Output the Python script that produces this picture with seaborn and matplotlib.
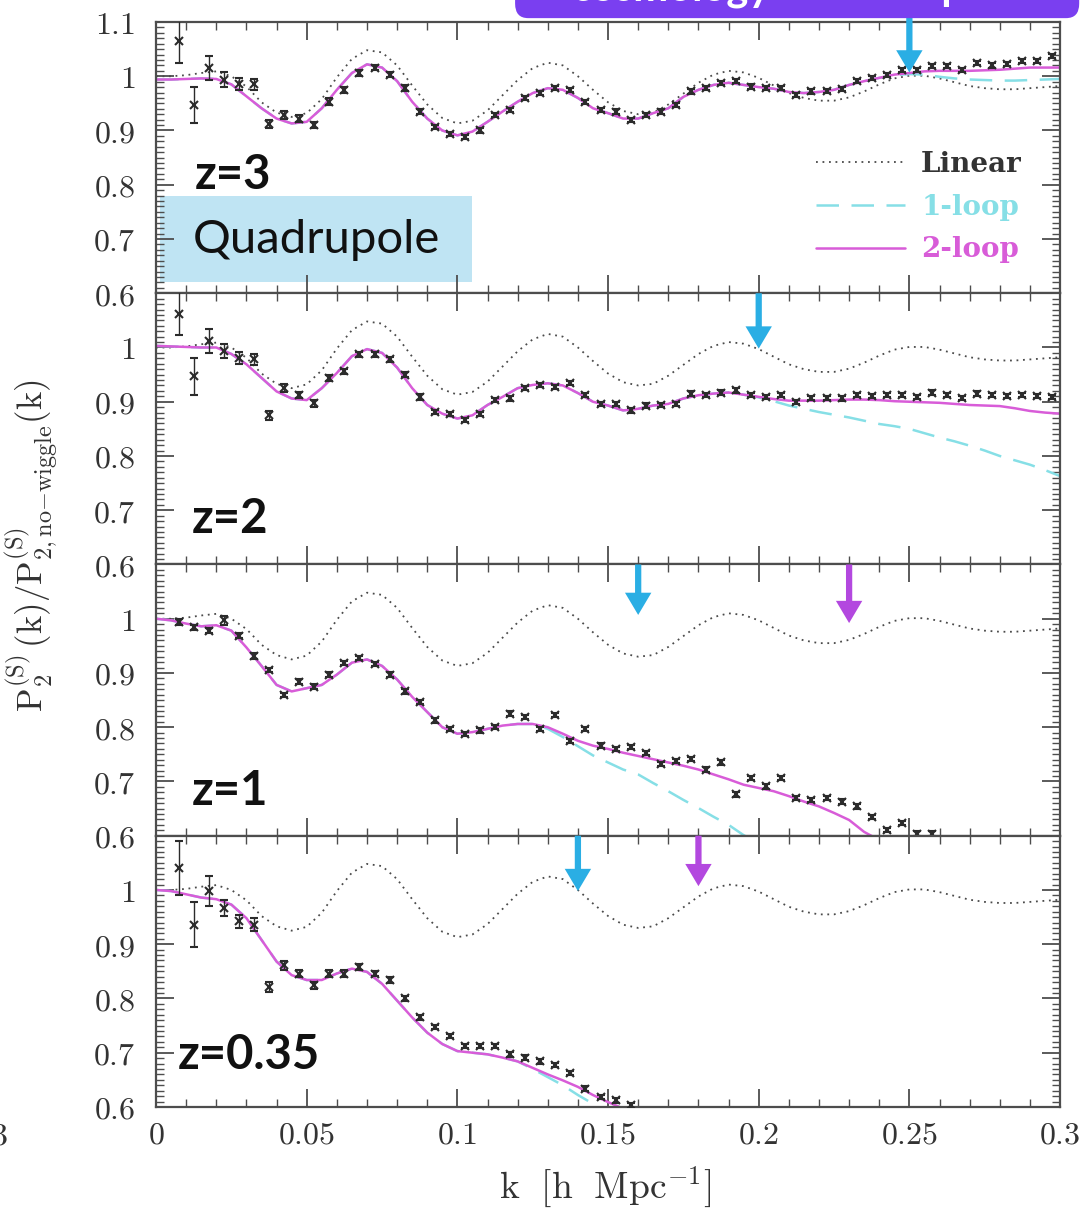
import matplotlib
matplotlib.use("Agg")
import matplotlib.pyplot as plt
import seaborn as sns
import numpy as np
from matplotlib.ticker import MultipleLocator, FuncFormatter
from matplotlib.patches import Rectangle, FancyBboxPatch
from matplotlib.lines import Line2D

sns.set_theme(style="ticks")
plt.rcParams['mathtext.fontset'] = 'cm'
plt.rcParams['font.family'] = ['DejaVu Serif']

# k grid for the theory curves (h/Mpc)
K_LINE = [0.000, 0.005, 0.010, 0.015, 0.020, 0.025, 0.030, 0.035, 0.040, 0.045,
          0.050, 0.055, 0.060, 0.065, 0.070, 0.075, 0.080, 0.085, 0.090, 0.095,
          0.100, 0.105, 0.110, 0.115, 0.120, 0.125, 0.130, 0.135, 0.140, 0.145,
          0.150, 0.155, 0.160, 0.165, 0.170, 0.175, 0.180, 0.185, 0.190, 0.195,
          0.200, 0.205, 0.210, 0.215, 0.220, 0.225, 0.230, 0.235, 0.240, 0.245,
          0.250, 0.255, 0.260, 0.265, 0.270, 0.275, 0.280, 0.285, 0.290, 0.295, 0.300]

# k bins of the N-body points
K_DATA = [0.0075, 0.0125, 0.0175, 0.0225, 0.0275, 0.0325, 0.0375, 0.0425, 0.0475, 0.0525,
          0.0575, 0.0625, 0.0675, 0.0725, 0.0775, 0.0825, 0.0875, 0.0925, 0.0975, 0.1025,
          0.1075, 0.1125, 0.1175, 0.1225, 0.1275, 0.1325, 0.1375, 0.1425, 0.1475, 0.1525,
          0.1575, 0.1625, 0.1675, 0.1725, 0.1775, 0.1825, 0.1875, 0.1925, 0.1975, 0.2025,
          0.2075, 0.2125, 0.2175, 0.2225, 0.2275, 0.2325, 0.2375, 0.2425, 0.2475, 0.2525,
          0.2575, 0.2625, 0.2675, 0.2725, 0.2775, 0.2825, 0.2875, 0.2925, 0.2975]

# error bars (same bins); z=1 points have small errors at low k
ERR_WIDE = [0.040, 0.034, 0.022, 0.013, 0.011, 0.010, 0.008, 0.007, 0.006, 0.006,
            0.006, 0.005, 0.005, 0.005, 0.005, 0.005, 0.005, 0.004, 0.004, 0.004,
            0.004, 0.004, 0.004, 0.004, 0.004, 0.004, 0.004, 0.004, 0.004, 0.004,
            0.004, 0.004, 0.004, 0.004, 0.004, 0.004, 0.004, 0.004, 0.004, 0.004,
            0.004, 0.004, 0.004, 0.004, 0.004, 0.004, 0.004, 0.004, 0.004, 0.004,
            0.004, 0.004, 0.004, 0.004, 0.004, 0.004, 0.004, 0.004, 0.004]
ERR_Z035 = [0.050, 0.042, 0.027, 0.015, 0.012, 0.012, 0.009, 0.008, 0.007, 0.006,
            0.006, 0.006, 0.005, 0.005, 0.005, 0.005, 0.005, 0.004, 0.004, 0.004,
            0.004, 0.004, 0.004, 0.004, 0.004, 0.004, 0.004, 0.004, 0.004, 0.004, 0.004]
ERR_Z1 = [0.005, 0.005, 0.005, 0.008, 0.005, 0.005, 0.004, 0.004, 0.004, 0.004,
          0.004, 0.004, 0.004, 0.004, 0.004, 0.004, 0.004, 0.004, 0.004, 0.004,
          0.004, 0.004, 0.004, 0.004, 0.004, 0.004, 0.004, 0.004, 0.004, 0.004,
          0.004, 0.004, 0.004, 0.004, 0.004, 0.004, 0.004, 0.004, 0.004, 0.004,
          0.004, 0.004, 0.004, 0.004, 0.004, 0.004, 0.004, 0.004, 0.004, 0.004, 0.004]

LINEAR = [1.000, 1.000, 1.002, 1.006, 1.009, 1.000, 0.981, 0.952, 0.933, 0.925,
          0.932, 0.958, 0.998, 1.032, 1.048, 1.044, 1.020, 0.983, 0.948, 0.923,
          0.913, 0.918, 0.937, 0.965, 0.993, 1.015, 1.025, 1.020, 1.000, 0.975,
          0.952, 0.936, 0.930, 0.933, 0.948, 0.968, 0.988, 1.003, 1.010, 1.007,
          0.997, 0.983, 0.969, 0.960, 0.955, 0.955, 0.961, 0.972, 0.985, 0.996,
          1.001, 1.001, 0.996, 0.989, 0.982, 0.978, 0.976, 0.976, 0.978, 0.980, 0.982]

# z = 3
Z3_TWO = [0.994, 0.994, 0.995, 0.996, 0.995, 0.985, 0.963, 0.941, 0.922, 0.913,
          0.916, 0.941, 0.975, 1.006, 1.022, 1.016, 0.991, 0.953, 0.922, 0.900,
          0.891, 0.898, 0.916, 0.935, 0.953, 0.969, 0.978, 0.975, 0.960, 0.941,
          0.932, 0.922, 0.922, 0.932, 0.941, 0.962, 0.975, 0.984, 0.988, 0.984,
          0.980, 0.977, 0.971, 0.969, 0.971, 0.975, 0.984, 0.991, 0.997, 1.003,
          1.006, 1.009, 1.010, 1.010, 1.010, 1.011, 1.012, 1.014, 1.016, 1.016, 1.016]
Z3_ONE = [0.994, 0.994, 0.995, 0.996, 0.995, 0.985, 0.963, 0.941, 0.922, 0.913,
          0.916, 0.941, 0.975, 1.006, 1.022, 1.016, 0.991, 0.953, 0.922, 0.900,
          0.891, 0.898, 0.916, 0.935, 0.953, 0.969, 0.978, 0.975, 0.960, 0.941,
          0.932, 0.922, 0.922, 0.932, 0.941, 0.962, 0.975, 0.984, 0.988, 0.984,
          0.980, 0.977, 0.971, 0.969, 0.971, 0.975, 0.984, 0.991, 0.997, 1.002,
          1.004, 1.003, 0.999, 0.996, 0.994, 0.993, 0.992, 0.992, 0.993, 0.994, 0.995]
Z3_DATA = [1.065, 0.947, 1.015, 0.994, 0.985, 0.985, 0.912, 0.929, 0.922, 0.910,
           0.953, 0.975, 1.006, 1.016, 1.003, 0.978, 0.935, 0.907, 0.894, 0.888,
           0.900, 0.929, 0.938, 0.960, 0.969, 0.978, 0.975, 0.953, 0.938, 0.935,
           0.919, 0.929, 0.935, 0.947, 0.972, 0.978, 0.988, 0.991, 0.981, 0.978,
           0.978, 0.966, 0.972, 0.973, 0.977, 0.991, 0.997, 1.002, 1.012, 1.011,
           1.019, 1.019, 1.012, 1.025, 1.020, 1.022, 1.028, 1.028, 1.037]

# z = 2
Z2_TWO = [1.003, 1.002, 1.001, 1.000, 1.000, 0.988, 0.969, 0.944, 0.919, 0.906,
          0.903, 0.925, 0.953, 0.984, 0.997, 0.990, 0.963, 0.925, 0.894, 0.878,
          0.869, 0.875, 0.894, 0.909, 0.925, 0.931, 0.934, 0.930, 0.916, 0.900,
          0.893, 0.884, 0.887, 0.893, 0.896, 0.906, 0.912, 0.915, 0.917, 0.913,
          0.909, 0.905, 0.902, 0.902, 0.902, 0.903, 0.904, 0.904, 0.903, 0.901,
          0.900, 0.899, 0.898, 0.896, 0.894, 0.893, 0.892, 0.888, 0.883, 0.880, 0.878]
Z2_ONE = [1.003, 1.002, 1.001, 1.000, 1.000, 0.988, 0.969, 0.944, 0.919, 0.906,
          0.903, 0.925, 0.953, 0.984, 0.997, 0.990, 0.963, 0.925, 0.894, 0.878,
          0.869, 0.875, 0.894, 0.909, 0.925, 0.931, 0.934, 0.930, 0.916, 0.900,
          0.893, 0.884, 0.887, 0.893, 0.896, 0.906, 0.912, 0.915, 0.917, 0.913,
          0.908, 0.901, 0.893, 0.887, 0.881, 0.876, 0.871, 0.865, 0.859, 0.855,
          0.850, 0.842, 0.834, 0.827, 0.819, 0.810, 0.800, 0.792, 0.784, 0.774, 0.763]
Z2_DATA = [1.0625, 0.947, 1.0125, 0.994, 0.981, 0.978, 0.875, 0.925, 0.9125, 0.897,
           0.944, 0.956, 0.9875, 0.9875, 0.978, 0.950, 0.909, 0.881, 0.878, 0.866,
           0.878, 0.903, 0.906, 0.925, 0.931, 0.927, 0.934, 0.912, 0.896, 0.896,
           0.884, 0.893, 0.894, 0.896, 0.915, 0.913, 0.917, 0.921, 0.913, 0.909,
           0.912, 0.899, 0.907, 0.907, 0.906, 0.912, 0.911, 0.912, 0.913, 0.909,
           0.917, 0.913, 0.907, 0.915, 0.912, 0.911, 0.912, 0.911, 0.909]

# z = 1
Z1_TWO = [1.000, 0.997, 0.991, 0.986, 0.988, 0.978, 0.947, 0.913, 0.878, 0.866,
          0.872, 0.878, 0.897, 0.919, 0.925, 0.913, 0.888, 0.856, 0.828, 0.800,
          0.788, 0.791, 0.797, 0.803, 0.806, 0.806, 0.800, 0.788, 0.775, 0.766,
          0.760, 0.753, 0.747, 0.741, 0.735, 0.729, 0.722, 0.713, 0.704, 0.694,
          0.688, 0.682, 0.673, 0.663, 0.654, 0.642, 0.629, 0.607, 0.592]
Z1_ONE = [1.000, 0.997, 0.991, 0.986, 0.988, 0.978, 0.947, 0.913, 0.878, 0.866,
          0.872, 0.878, 0.897, 0.919, 0.925, 0.913, 0.888, 0.856, 0.828, 0.800,
          0.788, 0.791, 0.797, 0.803, 0.806, 0.806, 0.797, 0.782, 0.765, 0.748,
          0.735, 0.722, 0.713, 0.697, 0.682, 0.666, 0.651, 0.635, 0.620, 0.601, 0.586]
Z1_DATA = [0.994, 0.984, 0.978, 0.997, 0.969, 0.931, 0.906, 0.859, 0.884, 0.875,
           0.897, 0.919, 0.928, 0.916, 0.897, 0.866, 0.847, 0.8125, 0.797, 0.7875,
           0.794, 0.800, 0.825, 0.819, 0.797, 0.822, 0.775, 0.797, 0.766, 0.760,
           0.763, 0.753, 0.732, 0.738, 0.741, 0.722, 0.735, 0.676, 0.707, 0.691,
           0.707, 0.670, 0.666, 0.670, 0.663, 0.654, 0.635, 0.611, 0.623, 0.604, 0.604]

# z = 0.35
Z035_TWO = [1.000, 0.998, 0.992, 0.986, 0.983, 0.973, 0.948, 0.908, 0.868, 0.843,
            0.834, 0.834, 0.846, 0.855, 0.849, 0.827, 0.796, 0.765, 0.737, 0.716,
            0.703, 0.700, 0.697, 0.691, 0.684, 0.672, 0.660, 0.649, 0.637, 0.622,
            0.609, 0.597]
Z035_ONE = [1.000, 0.998, 0.992, 0.986, 0.983, 0.973, 0.948, 0.908, 0.868, 0.843,
            0.834, 0.834, 0.846, 0.855, 0.849, 0.827, 0.796, 0.765, 0.737, 0.716,
            0.703, 0.700, 0.697, 0.691, 0.684, 0.670, 0.655, 0.640, 0.622, 0.606, 0.590]
Z035_DATA = [1.040, 0.936, 0.998, 0.967, 0.942, 0.936, 0.821, 0.861, 0.846, 0.824,
             0.846, 0.846, 0.858, 0.846, 0.834, 0.800, 0.765, 0.747, 0.731, 0.712,
             0.712, 0.712, 0.697, 0.691, 0.684, 0.677, 0.662, 0.634, 0.618, 0.612, 0.603]

PANEL_LABELS = ["z=3", "z=2", "z=1", "z=0.35"]

# arrows: (panel, k, tip value, colour key)
ARROWS = [(0, 0.25, 1.007, "one"), (1, 0.20, 0.998, "one"),
          (2, 0.16, 1.007, "one"), (2, 0.23, 0.992, "two"),
          (3, 0.14, 0.998, "one"), (3, 0.18, 1.007, "two")]

C_LIN = "#4a4a4a"
C_ONE = "#86dfe6"
C_TWO = "#d85cd8"
ARROW_COL = {"one": "#2aaee4", "two": "#b348df"}
SPINE = "#4d4d4d"

panels = [(Z3_TWO, Z3_ONE, Z3_DATA, ERR_WIDE), (Z2_TWO, Z2_ONE, Z2_DATA, ERR_WIDE),
          (Z1_TWO, Z1_ONE, Z1_DATA, ERR_Z1), (Z035_TWO, Z035_ONE, Z035_DATA, ERR_Z035)]
label_pos = [(0.043, 0.435), (0.040, 0.166), (0.040, 0.166), (0.024, 0.19)]

fig, axes = plt.subplots(4, 1, sharex=True, figsize=(10.89, 12.09), dpi=100)
fig.patch.set_facecolor("white")
fig.subplots_adjust(left=0.1433, right=0.9734, top=0.9818, bottom=0.0844, hspace=0)

for i, (ax, (two, one, dat, err)) in enumerate(zip(axes, panels)):
    sns.lineplot(x=K_LINE, y=LINEAR, ax=ax, color=C_LIN, lw=1.3,
                 linestyle=(0, (1, 2.6)), label="Linear")
    sns.lineplot(x=K_LINE[:len(one)], y=one, ax=ax, color=C_ONE, lw=1.8,
                 linestyle=(0, (9, 5)), label="1-loop")
    sns.lineplot(x=K_LINE[:len(two)], y=two, ax=ax, color=C_TWO, lw=1.8,
                 label="2-loop")
    ax.errorbar(K_DATA[:len(dat)], dat, yerr=err[:len(dat)], fmt="x",
                color="#2b2b2b", ms=6, mew=1.5, elinewidth=1.0, capsize=3,
                capthick=1.0, zorder=5)

    ax.set_xlim(0, 0.3)
    ax.set_ylim(0.6, 1.1)
    ax.xaxis.set_major_locator(MultipleLocator(0.05))
    ax.xaxis.set_minor_locator(MultipleLocator(0.01))
    ax.yaxis.set_major_locator(MultipleLocator(0.1))
    ax.yaxis.set_minor_locator(MultipleLocator(0.01))
    top_lab = (i == 0)
    ax.yaxis.set_major_formatter(FuncFormatter(
        lambda v, p, t=top_lab: "" if (v > 1.05 and not t) else f"${v:g}$"))
    ax.xaxis.set_major_formatter(FuncFormatter(lambda v, p: f"${v:g}$"))
    ax.tick_params(which="both", direction="in", top=True, right=True,
                   colors=SPINE, labelcolor="#333333", labelsize=23)
    ax.tick_params(which="major", length=13, width=1.3)
    ax.tick_params(which="minor", length=6, width=1.0)
    ax.tick_params(axis="y", pad=15)
    ax.tick_params(axis="x", pad=9)
    for s in ax.spines.values():
        s.set_color(SPINE)
        s.set_linewidth(1.6)
    ax.set_xlabel("")
    ax.set_ylabel("")
    if ax.get_legend() is not None:
        ax.get_legend().remove()

    lx, ly = label_pos[i]
    ax.text(lx, ly, PANEL_LABELS[i], transform=ax.transAxes, fontsize=34,
            fontweight="bold", family="Lato", color="#111111", va="center", ha="left")

# Quadrupole box
ax0 = axes[0]
ax0.add_patch(Rectangle((0.0044, 0.04), 0.345, 0.318, transform=ax0.transAxes,
                        facecolor="#bfe4f3", edgecolor="none", zorder=0.5))
ax0.text(0.177, 0.196, "Quadrupole", transform=ax0.transAxes, fontsize=34,
         family="Lato", color="#111111", ha="center", va="center")

# legend
handles = [Line2D([], [], color=C_LIN, lw=1.3, linestyle=(0, (1, 2.6))),
           Line2D([], [], color=C_ONE, lw=1.8, linestyle=(0, (9, 5))),
           Line2D([], [], color=C_TWO, lw=1.8)]
leg = ax0.legend(handles, ["Linear", "1-loop", "2-loop"], loc="upper left",
                 bbox_to_anchor=(0.702, 0.616), frameon=False,
                 handlelength=3.2, handletextpad=0.6, labelspacing=0.56,
                 prop={"family": "DejaVu Serif", "weight": "bold", "size": 20})
for txt, c in zip(leg.get_texts(), ["#333333", C_ONE, C_TWO]):
    txt.set_color(c)

# arrows
for p, k, tip, key in ARROWS:
    start = 1.15 if p == 0 else 1.1
    axes[p].annotate("", xy=(k, tip), xytext=(k, start),
                     arrowprops=dict(facecolor=ARROW_COL[key], edgecolor="none",
                                     width=4.5, headwidth=19, headlength=16, shrink=0),
                     annotation_clip=False, zorder=8)

fig.text(0.556, 0.018, r"$\mathrm{k\ \ [h\ \ Mpc^{-1}]}$", fontsize=27,
         ha="center", va="center", color="#333333")
fig.text(0.029, 0.549,
         r"$\mathrm{P_2^{(S)}\,(k)/P^{(S)}_{2,no{-}wiggle}(k)}$",
         rotation=90, fontsize=25, ha="center", va="center", color="#333333")

# cropped banner at the top edge and stray tick label at left edge
fig.patches.append(FancyBboxPatch((0.473, 0.985), 0.518, 0.05,
                                  boxstyle="round,pad=0,rounding_size=0.012",
                                  transform=fig.transFigure, facecolor="#7a3ff0",
                                  edgecolor="none", figure=fig))
fig.text(771 / 1089, 1.0, "cosmology", color="white", fontsize=30,
         family="Lato", fontweight="bold", ha="right", va="baseline")
fig.text(853 / 1089, 1.0, "wmaps", color="white", fontsize=30,
         family="Lato", fontweight="bold", ha="left", va="baseline")
fig.text(8 / 1089, 1 - 1136 / 1209, r"$3$", fontsize=23, ha="right",
         va="center", color="#333333")

fig.savefig("out.png", dpi=100, facecolor="white")
